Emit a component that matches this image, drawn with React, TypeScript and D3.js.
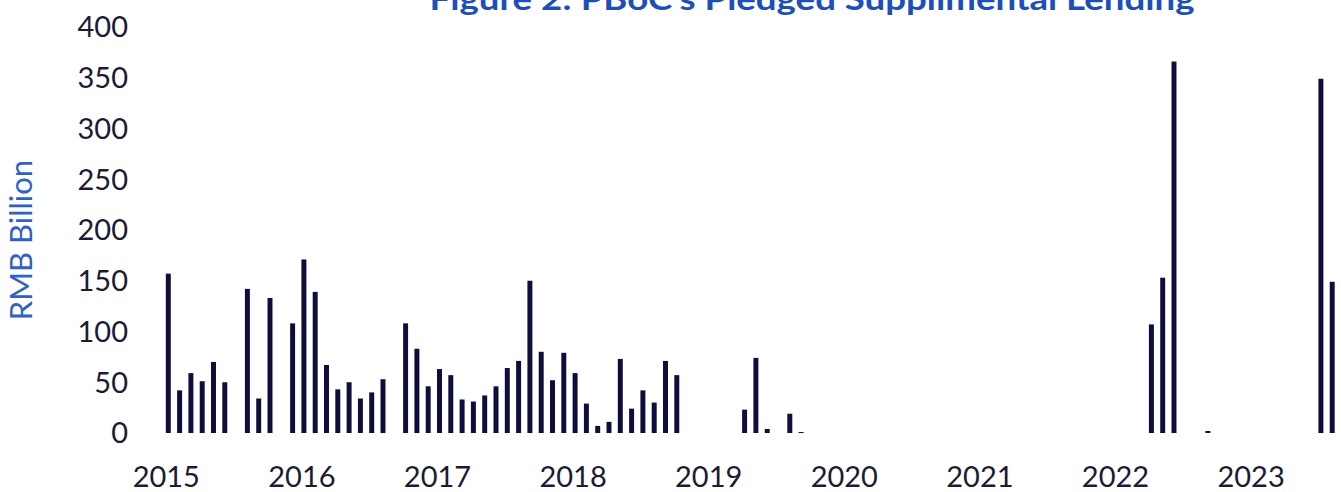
import * as d3 from "d3";

// Monthly PSL net lending, RMB bn. Series starts June 2015.
const startMonth = new Date(2015, 5, 1);
const psl2015 = [157, 42, 59, 51, 70, 50, 0]; // Jun-Dec
const psl2016 = [142, 34, 133, 0, 108, 171, 139, 67, 43, 50, 34, 40];
const psl2017 = [53, 0, 108, 83, 46, 63, 57, 33, 31, 37, 46, 64];
const psl2018 = [71, 150, 80, 52, 79, 59, 29, 7, 11, 73, 24, 42];
const psl2019 = [30, 71, 57, 0, 0, 0, 0, 0, 23, 74, 4, 0];
const psl2020 = [19, 1, 0, 0, 0, 0, 0, 0, 0, 0, 0, 0];
const psl2021 = [0, 0, 0, 0, 0, 0, 0, 0, 0, 0, 0, 0];
const psl2022 = [0, 0, 0, 0, 0, 0, 0, 0, 107, 153, 366, 0];
const psl2023 = [0, 2, 0, 0, 0, 0, 0, 0, 0, 0, 0, 349];
const psl2024 = [149]; // Jan

const yTicks = [0, 50, 100, 150, 200, 250, 300, 350, 400];
const labelEvery = 12;

const title = "Figure 2: PBoC's Pledged Supplimental Lending";
const yTitle = "RMB Billion";

const W = 1341;
const H = 492;
const FONT = "Lato, 'Open Sans', sans-serif";
const BAR = "#0e0e3c";
const TEXT = "#1b1b33";
const BLUE = "#1d4fb8";

export default function App() {
  const values = [
    ...psl2015, ...psl2016, ...psl2017, ...psl2018, ...psl2019,
    ...psl2020, ...psl2021, ...psl2022, ...psl2023, ...psl2024,
  ];
  const data = values.map((v, i) => ({
    i,
    date: d3.timeMonth.offset(startMonth, i),
    value: v,
  }));

  const step = 11.3;
  const x0 = 168.3 - step / 2;
  const x = d3
    .scaleBand<number>()
    .domain(data.map((d) => d.i))
    .range([x0, x0 + step * data.length])
    .paddingInner(0.56)
    .paddingOuter(0.28);

  const y = d3.scaleLinear().domain([0, 400]).range([433, 27]);

  const yearTicks = data.filter((d) => d.i % labelEvery === 0);
  const fmtYear = d3.timeFormat("%Y");

  return (
    <svg
      width={W}
      height={H}
      style={{ position: "absolute", left: 0, top: 0, background: "#fff" }}
    >
      <text
        x={812}
        y={10}
        textAnchor="middle"
        fontFamily={FONT}
        fontWeight={700}
        fontSize={30}
        fill={BLUE}
        textLength={765}
        lengthAdjust="spacingAndGlyphs"
      >
        {title}
      </text>

      <text
        transform={`translate(32, 240) rotate(-90)`}
        textAnchor="middle"
        fontFamily={FONT}
        fontSize={31}
        fill="#2f62c4"
      >
        {yTitle}
      </text>

      {yTicks.map((t) => (
        <text
          key={t}
          x={128}
          y={y(t)}
          dy="0.36em"
          textAnchor="end"
          fontFamily={FONT}
          fontSize={29}
          fill={TEXT}
        >
          {t}
        </text>
      ))}

      {data
        .filter((d) => d.value > 0)
        .map((d) => (
          <rect
            key={d.i}
            x={x(d.i)}
            y={y(d.value)}
            width={x.bandwidth()}
            height={y(0) - y(d.value)}
            fill={BAR}
          />
        ))}

      {yearTicks.map((d) => (
        <text
          key={d.i}
          x={(x(d.i) ?? 0) + x.bandwidth() / 2 - 2}
          y={487}
          textAnchor="middle"
          fontFamily={FONT}
          fontSize={29}
          fill={TEXT}
        >
          {fmtYear(d.date)}
        </text>
      ))}
    </svg>
  );
}
